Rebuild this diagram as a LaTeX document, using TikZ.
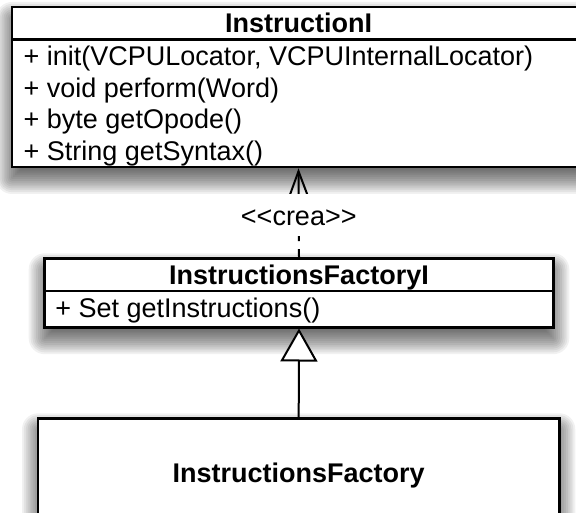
\documentclass[tikz,border=0pt]{standalone}
\usepackage{fontspec}
\setmainfont{Liberation Sans}
\usetikzlibrary{arrows.meta}
% soft drop shadow built from stacked translucent rectangles
\newcommand\softshadow[4]{%
  \foreach \k in {0,...,17}{%
    \pgfmathsetmacro\shexp{-16+\k*32/17}%
    \pgfmathsetmacro\shrad{max(\shexp,0.01)}%
    \fill[black, fill opacity=0.055, rounded corners=\shrad pt]
      (#1-\shexp, #2-\shexp+11) rectangle (#3+\shexp, #4+\shexp+11);
  }}
\begin{document}
\begin{tikzpicture}[x=1pt,y=-1pt,
  classbox/.style={draw=black, line width=2.6pt, fill=white, inner sep=0pt},
  classtitle/.style={font=\fontsize{27}{32}\selectfont\bfseries,
    inner sep=0pt, anchor=base},
  member/.style={font=\fontsize{27}{32}\selectfont, inner sep=0pt,
    anchor=base west},
  divider/.style={line width=2.4pt},
  link/.style={line width=2pt},
  stereo/.style={font=\fontsize{27}{32}\selectfont, fill=white,
    inner sep=0pt, minimum height=42pt, minimum width=125pt,
    text height=20pt, text depth=0pt}]

\clip (0,0) rectangle (576,513);
\fill[white] (0,0) rectangle (576,513);

% shadows
\softshadow{12}{7}{585}{167}
\softshadow{44.7}{258.3}{553.3}{327.2}
\softshadow{38}{418.3}{559.3}{620}

% interface InstructionI
\node[classbox, minimum width=573pt, minimum height=160pt]
  (iface) at (298.5,87) {};
\draw[divider] (12,39.5) -- (585,39.5);
\node[classtitle] (ifacetitle) at (298.5,32.8) {InstructionI};
\node[member] (m1) at (23.5,65.5)  {+ init(VCPULocator, VCPUInternalLocator)};
\node[member] (m2) at (23.5,97.2)  {+ void perform(Word)};
\node[member] (m3) at (23.5,128.9) {+ byte getOpode()};
\node[member] (m4) at (23.5,160.6) {+ String getSyntax()};

% interface InstructionsFactoryI
\node[classbox, minimum width=508.6pt, minimum height=68.9pt]
  (fact) at (299,292.75) {};
\draw[divider] (44.7,291.3) -- (553.3,291.3);
\node[classtitle] (facttitle) at (299,284.2) {InstructionsFactoryI};
\node[member] (f1) at (55.2,317.5) {+ Set getInstructions()};

% class InstructionsFactory
\node[classbox, minimum width=521.3pt, minimum height=201.7pt]
  (impl) at (298.7,519.15) {};
\node[classtitle] (impltitle) at (298.7,482.5) {InstructionsFactory};

% dependency <<crea>>
\draw[link, dash pattern=on 30.5pt off 8pt,
  {Straight Barb[length=23pt, width=17pt]}-]
  (iface.south) -- node[stereo, pos=0.53] (crea) {{<}{<}crea{>}{>}}
  (fact.north);

% realization
\draw[link, -{Triangle[length=33pt, width=37pt, fill=white]}]
  (impl.north) -- (fact.south);
\end{tikzpicture}
\end{document}
